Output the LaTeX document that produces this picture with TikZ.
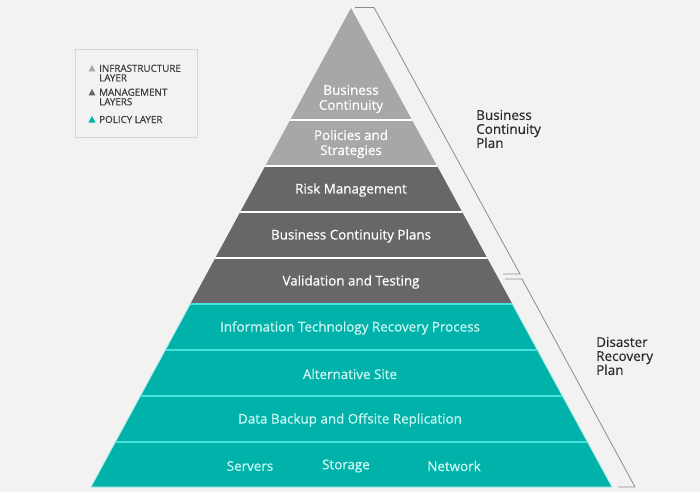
\documentclass[tikz,border=0pt]{standalone}
\usepackage{fontspec}
\setmainfont{Open Sans}
\newfontfamily\medfont{Open Sans}[FakeBold=0.6]
\newfontfamily\semfont{Open Sans}[FakeBold=0.3]
\definecolor{bg}{HTML}{F2F2F2}
\definecolor{lgray}{HTML}{A7A7A9}
\definecolor{dgray}{HTML}{67676A}
\definecolor{tealc}{HTML}{00B2AA}
\definecolor{tealline}{HTML}{45E3DA}
\definecolor{tealedge}{HTML}{A8EBE6}
\definecolor{tealtext}{HTML}{CDF7F2}
\definecolor{legbd}{HTML}{D6D6D6}
\definecolor{legtext}{HTML}{3C3C3E}
\definecolor{brk}{HTML}{8C8C8C}
\definecolor{labtext}{HTML}{2A2A2C}
\begin{document}
\begin{tikzpicture}[x=1pt,y=-1pt,
  graytxt/.style={text=white,font=\medfont\fontsize{13.4}{15}\selectfont,align=center,inner sep=0pt},
  tealtxt/.style={text=tealtext,font=\medfont\fontsize{13.4}{15}\selectfont,align=center,inner sep=0pt},
  legtxt/.style={text=legtext,font=\medfont\fontsize{9.8}{9.5}\selectfont,align=left,anchor=west,inner sep=0pt},
  sidetxt/.style={text=labtext,font=\semfont\fontsize{13.5}{14}\selectfont,align=left,anchor=west,inner sep=0pt},
  bracket/.style={draw=brk,line width=0.8pt},
  divwhite/.style={draw=white,line width=1.4pt},
  divteal/.style={draw=tealline,line width=1.4pt}]
\useasboundingbox[fill=bg] (0,0) rectangle (700,492);

% pyramid layers
\fill[lgray] (351,8) -- (437.1,166) -- (265.2,166) -- cycle;
\fill[dgray] (265.2,166) -- (437.1,166) -- (512.3,304) -- (190.3,304) -- cycle;
\filldraw[fill=tealc,draw=tealedge,line width=0.8pt] (190.3,304) -- (512.3,304) -- (612,487) -- (91,487) -- cycle;

% dividers
\begin{scope}
  \clip (351,8) -- (612,487) -- (91,487) -- cycle;
  \draw[divwhite] (0,120) -- (700,120);
  \draw[divwhite] (0,166) -- (700,166);
  \draw[divwhite] (0,212) -- (700,212);
  \draw[divwhite] (0,258) -- (700,258);
  \draw[divteal] (0,304) -- (700,304);
  \draw[divteal] (0,350) -- (700,350);
  \draw[divteal] (0,396) -- (700,396);
  \draw[divteal] (0,442) -- (700,442);
\end{scope}

% layer texts
\node[graytxt] (bc) at (351,99) {Business\\Continuity};
\node[graytxt] (ps) at (351,144) {Policies and\\Strategies};
\node[graytxt] (rm) at (351,190) {Risk Management};
\node[graytxt] (bcp) at (351,236) {Business Continuity Plans};
\node[graytxt] (vt) at (351,282) {Validation and Testing};
\node[tealtxt] (it) at (350,328) {Information Technology Recovery Process};
\node[tealtxt] (as) at (350,374) {Alternative Site};
\node[tealtxt] (db) at (350,420) {Data Backup and Offsite Replication};
\node[tealtxt] (sv) at (250,466) {Servers};
\node[tealtxt] (st) at (346,466) {Storage};
\node[tealtxt] (nw) at (454,466) {Network};

% brackets
\coordinate (b1a) at (355,7.5);
\coordinate (b1b) at (374,7.5);
\coordinate (b1c) at (520,274);
\coordinate (b1d) at (503,274);
\draw[bracket] (b1a) -- (b1b) -- (b1c) -- (b1d);
\coordinate (b2a) at (505,279);
\coordinate (b2b) at (522,279);
\coordinate (b2c) at (635,487);
\coordinate (b2d) at (618,487);
\draw[bracket] (b2a) -- (b2b) -- (b2c) -- (b2d);

\node[sidetxt] (bcplan) at (476,129) {Business\\Continuity\\Plan};
\node[sidetxt] (drplan) at (596,356) {Disaster\\Recovery\\Plan};

% legend
\draw[draw=legbd,line width=0.8pt] (75,49) rectangle (197,137);
\fill[lgray] (88.5,71.5) -- (95.5,71.5) -- (92,65) -- cycle;
\fill[dgray] (88.5,95.5) -- (95.5,95.5) -- (92,89) -- cycle;
\fill[tealc] (88.5,122.5) -- (95.5,122.5) -- (92,116) -- cycle;
\node[legtxt] (l1) at (99,73) {INFRASTRUCTURE\\LAYER};
\node[legtxt] (l2) at (99,97) {MANAGEMENT\\LAYERS};
\node[legtxt] (l3) at (99,119.5) {POLICY LAYER};
\end{tikzpicture}
\end{document}
